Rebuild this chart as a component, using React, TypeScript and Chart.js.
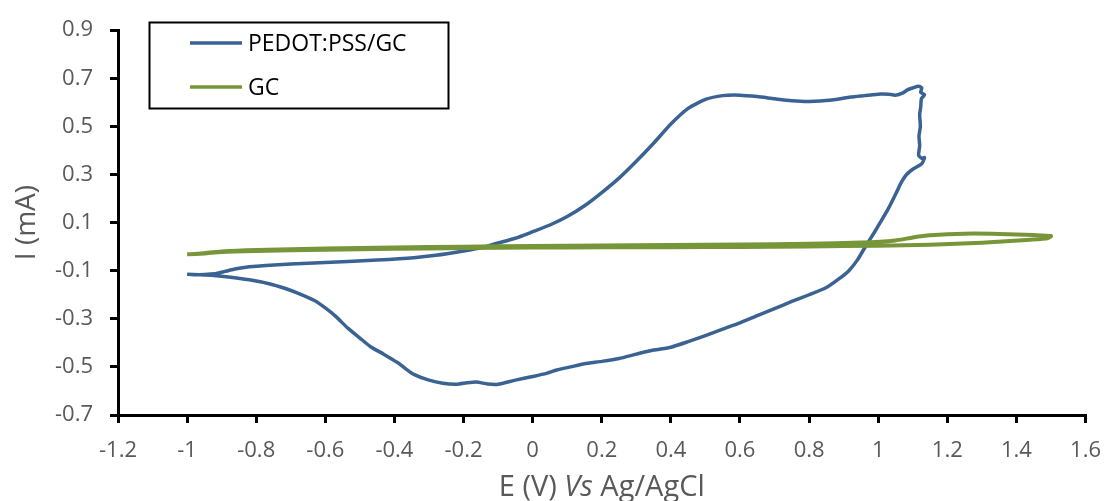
import React, { useEffect, useRef } from 'react';
import { Chart, registerables } from 'chart.js';

Chart.register(...registerables);

// ---- Data ----
const seriesLabels = ['PEDOT:PSS/GC', 'GC'];
const seriesColors = ['#3a6293', '#77963a'];

const xMin = -1.2;
const xMax = 1.6;
const xStep = 0.2;
const yMin = -0.7;
const yMax = 0.9;
const yStep = 0.2;

const xTitleParts = ['E (V) ', 'Vs', ' Ag/AgCl'];
const yTitle = 'I (mA)';

// PEDOT:PSS/GC cyclic voltammogram (anodic sweep, switching region, cathodic sweep)
const pedotX = [
  -1.0, -0.97, -0.94, -0.915, -0.89, -0.858, -0.82, -0.772, -0.7, -0.6, -0.534, -0.45, -0.344, -0.28,
  -0.2, -0.15, -0.106, -0.05, 0.0, 0.05, 0.1, 0.15, 0.2, 0.25, 0.3, 0.35, 0.4, 0.45, 0.5, 0.55, 0.6,
  0.65, 0.7, 0.75, 0.8, 0.866, 0.92, 0.96, 1.006, 1.03, 1.05, 1.07, 1.086, 1.1, 1.117, 1.126, 1.123,
  1.134, 1.125, 1.123, 1.12, 1.122, 1.118, 1.12, 1.117, 1.125, 1.134, 1.126, 1.1, 1.082, 1.068, 1.055,
  1.03, 1.01, 0.99, 0.965, 0.94, 0.915, 0.89, 0.85, 0.8, 0.75, 0.7, 0.65, 0.6, 0.55, 0.5, 0.45, 0.4, 0.35,
  0.3, 0.25, 0.2, 0.15, 0.11, 0.07, 0.04, 0.0, -0.05, -0.1, -0.13, -0.163, -0.19, -0.22, -0.26, -0.3,
  -0.344, -0.37, -0.391, -0.43, -0.469, -0.5, -0.534, -0.57, -0.6, -0.63, -0.68, -0.72, -0.76, -0.82,
  -0.88, -0.93, -1.0,
];
const pedotY = [
  -0.116, -0.117, -0.115, -0.112, -0.103, -0.092, -0.084, -0.078, -0.072, -0.066, -0.062, -0.056, -0.046, -0.036,
  -0.018, -0.005, 0.013, 0.035, 0.062, 0.09, 0.125, 0.17, 0.225, 0.285, 0.355, 0.43, 0.51, 0.575, 0.612, 0.628, 0.63,
  0.624, 0.615, 0.607, 0.604, 0.61, 0.622, 0.628, 0.635, 0.634, 0.63, 0.638, 0.653, 0.66, 0.667, 0.66, 0.642,
  0.632, 0.615, 0.58, 0.55, 0.5, 0.46, 0.42, 0.38, 0.368, 0.37, 0.345, 0.322, 0.3, 0.27, 0.232,
  0.16, 0.11, 0.062, 0.005, -0.055, -0.1, -0.13, -0.17, -0.2, -0.228, -0.258, -0.287, -0.317, -0.343, -0.37, -0.395, -0.418, -0.43,
  -0.447, -0.465, -0.477, -0.487, -0.5, -0.513, -0.527, -0.54, -0.555, -0.572, -0.571, -0.563, -0.566, -0.572, -0.568, -0.555,
  -0.531, -0.505, -0.482, -0.448, -0.416, -0.38, -0.34, -0.29, -0.255, -0.225, -0.193, -0.172, -0.155, -0.138,
  -0.126, -0.119, -0.115,
];

// GC cyclic voltammogram
const gcX = [
  -1.0, -0.97, -0.9, -0.8, -0.6, -0.4, -0.2, 0.0, 0.2, 0.4, 0.6, 0.8, 0.95, 1.05, 1.1, 1.15, 1.25, 1.35,
  1.45, 1.5, 1.49, 1.44, 1.3, 1.15, 1.0, 0.8, 0.6, 0.4, 0.2, 0.0, -0.2, -0.4, -0.6, -0.8, -0.9, -0.95, -1.0,
];
const gcY = [
  -0.032, -0.03, -0.02, -0.014, -0.008, -0.004, 0.0, 0.003, 0.005, 0.007, 0.009, 0.012, 0.017, 0.026, 0.038, 0.047, 0.054, 0.053,
  0.048, 0.044, 0.035, 0.029, 0.016, 0.008, 0.004, 0.001, -0.001, -0.002, -0.003, -0.004, -0.006, -0.009, -0.013, -0.018, -0.022, -0.028, -0.032,
];

const FONT = '"Open Sans", "Noto Sans", sans-serif';
const GREY = '#595959';

const fmt = (v: number | string) => {
  const n = parseFloat(Number(v).toFixed(1));
  return (Object.is(n, -0) ? 0 : n).toString();
};

const overlayPlugin = {
  id: 'overlay',
  afterDraw(chart: any) {
    const ctx = chart.ctx as CanvasRenderingContext2D;
    const area = chart.chartArea;
    ctx.save();
    // legend box
    ctx.strokeStyle = '#000';
    ctx.lineWidth = 2;
    ctx.strokeRect(149.5, 22.5, 299, 86);
    const rows = [43, 87];
    seriesLabels.forEach((label, i) => {
      ctx.strokeStyle = seriesColors[i];
      ctx.lineWidth = 3.5;
      ctx.beginPath();
      ctx.moveTo(190, rows[i]);
      ctx.lineTo(242, rows[i]);
      ctx.stroke();
      ctx.fillStyle = '#000';
      ctx.font = `23px ${FONT}`;
      ctx.textAlign = 'left';
      ctx.textBaseline = 'middle';
      ctx.fillText(label, 248, rows[i] + 1);
    });
    // x axis title with italic part
    const fonts = [`29px ${FONT}`, `italic 29px ${FONT}`, `29px ${FONT}`];
    const widths = xTitleParts.map((t, i) => {
      ctx.font = fonts[i];
      return ctx.measureText(t).width;
    });
    const total = widths.reduce((a, b) => a + b, 0);
    let x = (area.left + area.right) / 2 - total / 2;
    ctx.fillStyle = GREY;
    ctx.textAlign = 'left';
    ctx.textBaseline = 'alphabetic';
    xTitleParts.forEach((t, i) => {
      ctx.font = fonts[i];
      ctx.fillText(t, x, 496);
      x += widths[i];
    });
    ctx.restore();
  },
};

export default function App() {
  const ref = useRef<HTMLCanvasElement>(null);
  useEffect(() => {
    document.body.style.margin = '0';
    const toPts = (xs: number[], ys: number[]) => xs.map((x, i) => ({ x, y: ys[i] }));
    const chart = new Chart(ref.current!, {
      type: 'scatter',
      data: {
        datasets: [
          {
            label: seriesLabels[0],
            data: toPts(pedotX, pedotY),
            showLine: true,
            borderColor: seriesColors[0],
            backgroundColor: seriesColors[0],
            borderWidth: 3.5,
            pointRadius: 0,
            tension: 0.2,
            order: 1,
          },
          {
            label: seriesLabels[1],
            data: toPts(gcX, gcY),
            showLine: true,
            borderColor: seriesColors[1],
            backgroundColor: seriesColors[1],
            borderWidth: 4,
            pointRadius: 0,
            tension: 0.2,
            order: 0,
          },
        ],
      },
      options: {
        animation: false,
        responsive: false,
        layout: { padding: { top: 24, right: 19, left: 0, bottom: 0 } },
        plugins: { legend: { display: false }, tooltip: { enabled: false } },
        scales: {
          x: {
            type: 'linear',
            min: xMin,
            max: xMax,
            ticks: {
              stepSize: xStep,
              callback: (v: any) => fmt(v),
              color: GREY,
              font: { family: FONT, size: 22, lineHeight: 1.2 },
              padding: 15,
              maxRotation: 0,
              autoSkip: false,
            },
            grid: { drawOnChartArea: false, drawTicks: true, tickLength: 8, color: '#000', lineWidth: 3 },
            border: { display: true, color: '#000', width: 3 },
            afterFit: (s: any) => {
              s.height = 86;
            },
          },
          y: {
            type: 'linear',
            min: yMin,
            max: yMax,
            ticks: {
              stepSize: yStep,
              callback: (v: any) => fmt(v),
              color: GREY,
              font: { family: FONT, size: 22, lineHeight: 1.2 },
              padding: 17,
              autoSkip: false,
            },
            grid: { drawOnChartArea: false, drawTicks: true, tickLength: 8, color: '#000', lineWidth: 3 },
            border: { display: true, color: '#000', width: 3 },
            title: {
              display: true,
              text: yTitle,
              color: GREY,
              font: { family: FONT, size: 28, lineHeight: 1.2 },
              padding: { top: 10, bottom: 0 },
            },
            afterFit: (s: any) => {
              s.width = 118;
            },
          },
        },
      },
      plugins: [overlayPlugin],
    });
    return () => chart.destroy();
  }, []);
  return (
    <canvas
      ref={ref}
      width={1116}
      height={501}
      style={{ position: 'fixed', left: 0, top: 0, width: 1116, height: 501 }}
    />
  );
}
